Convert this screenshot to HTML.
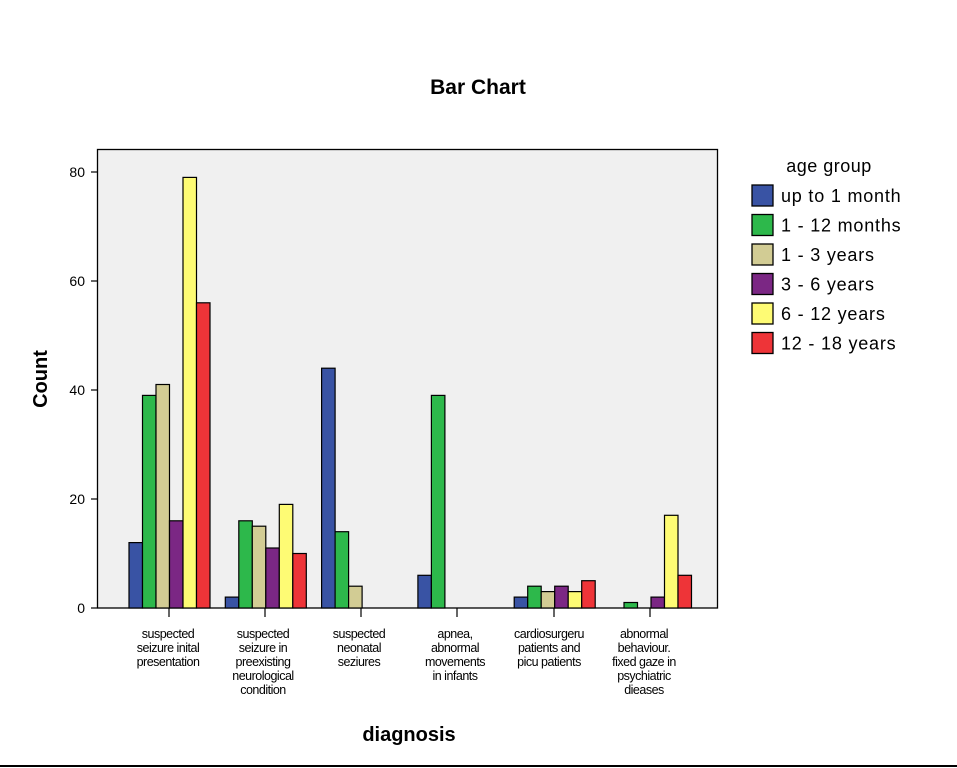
<!DOCTYPE html>
<html><head><style>
body{margin:0;background:#fff;}
svg{display:block;font-family:"Liberation Sans",Arial,sans-serif;}
</style></head><body>
<svg width="957" height="768" viewBox="0 0 957 768">
<rect width="957" height="768" fill="#fff"/>
<text x="478" y="94" font-size="21" font-weight="bold" text-anchor="middle" fill="#000">Bar Chart</text>
<rect x="97.5" y="149.5" width="620" height="458.5" fill="#f0f0f0" stroke="#000" stroke-width="1.3"/>
<g stroke="#000" stroke-width="1.2">
<line x1="91" y1="172" x2="97.5" y2="172"/><line x1="91" y1="281" x2="97.5" y2="281"/>
<line x1="91" y1="390" x2="97.5" y2="390"/><line x1="91" y1="499" x2="97.5" y2="499"/>
<line x1="91" y1="608" x2="97.5" y2="608"/>
<line x1="169" y1="608" x2="169" y2="617"/><line x1="265" y1="608" x2="265" y2="617"/>
<line x1="361" y1="608" x2="361" y2="617"/><line x1="457" y1="608" x2="457" y2="617"/>
<line x1="554" y1="608" x2="554" y2="617"/><line x1="650" y1="608" x2="650" y2="617"/>
</g>
<g font-size="14" text-anchor="end" fill="#000">
<text x="85" y="177">80</text><text x="85" y="286">60</text><text x="85" y="395">40</text>
<text x="85" y="504">20</text><text x="85" y="613">0</text>
</g>
<text transform="translate(47,379) rotate(-90)" font-size="20" font-weight="bold" text-anchor="middle">Count</text>
<g stroke="#000" stroke-width="1.2">
<rect x="129" y="542.6" width="13.5" height="65.4" fill="#3953a4"/>
<rect x="142.5" y="395.4" width="13.5" height="212.6" fill="#2db84b"/>
<rect x="156" y="384.5" width="13.5" height="223.5" fill="#d2cc94"/>
<rect x="169.5" y="520.8" width="13.5" height="87.2" fill="#7b2784"/>
<rect x="183" y="177.4" width="13.5" height="430.6" fill="#fefb74"/>
<rect x="196.5" y="302.8" width="13.5" height="305.2" fill="#ee3438"/>

<rect x="225.3" y="597.1" width="13.5" height="10.9" fill="#3953a4"/>
<rect x="238.8" y="520.8" width="13.5" height="87.2" fill="#2db84b"/>
<rect x="252.3" y="526.2" width="13.5" height="81.8" fill="#d2cc94"/>
<rect x="265.8" y="548" width="13.5" height="60" fill="#7b2784"/>
<rect x="279.3" y="504.4" width="13.5" height="103.6" fill="#fefb74"/>
<rect x="292.8" y="553.5" width="13.5" height="54.5" fill="#ee3438"/>

<rect x="321.6" y="368.2" width="13.5" height="239.8" fill="#3953a4"/>
<rect x="335.1" y="531.7" width="13.5" height="76.3" fill="#2db84b"/>
<rect x="348.6" y="586.2" width="13.5" height="21.8" fill="#d2cc94"/>

<rect x="417.9" y="575.3" width="13.5" height="32.7" fill="#3953a4"/>
<rect x="431.4" y="395.4" width="13.5" height="212.6" fill="#2db84b"/>

<rect x="514.2" y="597.1" width="13.5" height="10.9" fill="#3953a4"/>
<rect x="527.7" y="586.2" width="13.5" height="21.8" fill="#2db84b"/>
<rect x="541.2" y="591.6" width="13.5" height="16.4" fill="#d2cc94"/>
<rect x="554.7" y="586.2" width="13.5" height="21.8" fill="#7b2784"/>
<rect x="568.2" y="591.6" width="13.5" height="16.4" fill="#fefb74"/>
<rect x="581.7" y="580.7" width="13.5" height="27.3" fill="#ee3438"/>

<rect x="624" y="602.5" width="13.5" height="5.5" fill="#2db84b"/>
<rect x="651" y="597.1" width="13.5" height="10.9" fill="#7b2784"/>
<rect x="664.5" y="515.3" width="13.5" height="92.7" fill="#fefb74"/>
<rect x="678" y="575.3" width="13.5" height="32.7" fill="#ee3438"/>
</g>
<g font-size="12.5" text-anchor="middle" fill="#000" letter-spacing="-0.5">
<text x="168" y="638">suspected</text><text x="168" y="652">seizure inital</text><text x="168" y="666">presentation</text>
<text x="263" y="638">suspected</text><text x="263" y="652">seizure in</text><text x="263" y="666">preexisting</text><text x="263" y="680">neurological</text><text x="263" y="694">condition</text>
<text x="359" y="638">suspected</text><text x="359" y="652">neonatal</text><text x="359" y="666">seziures</text>
<text x="455" y="638">apnea,</text><text x="455" y="652">abnormal</text><text x="455" y="666">movements</text><text x="455" y="680">in infants</text>
<text x="549" y="638">cardiosurgeru</text><text x="549" y="652">patients and</text><text x="549" y="666">picu patients</text>
<text x="644" y="638">abnormal</text><text x="644" y="652">behaviour.</text><text x="644" y="666">fixed gaze in</text><text x="644" y="680">psychiatric</text><text x="644" y="694">dieases</text>
</g>
<text x="409" y="741" font-size="20" font-weight="bold" text-anchor="middle">diagnosis</text>
<text x="829" y="172" font-size="18" text-anchor="middle" letter-spacing="0.5">age group</text>
<g stroke="#000" stroke-width="1.3">
<rect x="752" y="185" width="21" height="21" fill="#3953a4"/>
<rect x="752" y="214.5" width="21" height="21" fill="#2db84b"/>
<rect x="752" y="244" width="21" height="21" fill="#d2cc94"/>
<rect x="752" y="273.5" width="21" height="21" fill="#7b2784"/>
<rect x="752" y="303" width="21" height="21" fill="#fefb74"/>
<rect x="752" y="332.5" width="21" height="21" fill="#ee3438"/>
</g>
<g font-size="18" fill="#000" letter-spacing="0.8">
<text x="781" y="202">up to 1 month</text>
<text x="781" y="231.5">1 - 12 months</text>
<text x="781" y="261">1 - 3 years</text>
<text x="781" y="290.5">3 - 6 years</text>
<text x="781" y="320">6 - 12 years</text>
<text x="781" y="349.5">12 - 18 years</text>
</g>
<line x1="0" y1="766" x2="957" y2="766" stroke="#000" stroke-width="2"/>
</svg>
</body></html>
